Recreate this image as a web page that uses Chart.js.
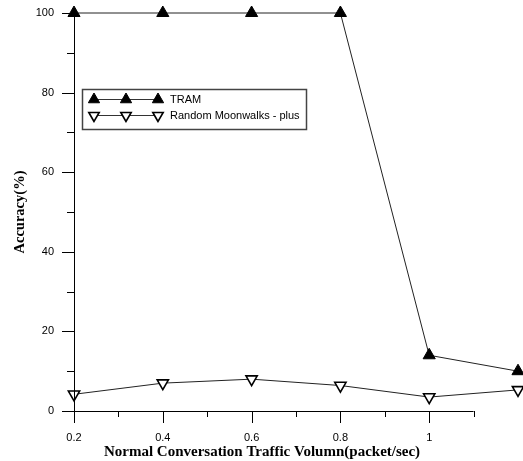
<!DOCTYPE html>
<html>
<head>
<meta charset="utf-8">
<script src="https://cdn.jsdelivr.net/npm/chart.js@4/dist/chart.umd.min.js"></script>
<style>
  html, body { margin: 0; padding: 0; background: #fff; }
  #wrap { width: 523px; height: 461px; }
</style>
</head>
<body>
<div id="wrap"><canvas id="c" width="523" height="461"></canvas></div>
<script>
// Traffic volume (packet/sec) at each measurement
const volumes = [0.2, 0.4, 0.6, 0.8, 1.0, 1.2];
// Detection accuracy (%)
const tramAccuracy = [100, 100, 100, 100, 14.0, 10.0];
const moonwalkAccuracy = [4.2, 7.0, 8.0, 6.4, 3.5, 5.3];

const seriesNames = ['TRAM', 'Random Moonwalks - plus'];
const xTickValues = [0.2, 0.4, 0.6, 0.8, 1.0];
const xTickLabels = ['0.2', '0.4', '0.6', '0.8', '1'];
const xMinorValues = [0.3, 0.5, 0.7, 0.9, 1.1];
const xAxisEnd = 1.1;
const yTickValues = [0, 20, 40, 60, 80, 100];
const yTickLabels = ['0', '20', '40', '60', '80', '100'];
const yMinorValues = [10, 30, 50, 70, 90];

const xTitle = 'Normal Conversation Traffic Volumn(packet/sec)';
const yTitle = 'Accuracy(%)';

const toPoints = (ys) => volumes.map((x, i) => ({ x, y: ys[i] }));

const TICK_FONT = { family: '"Liberation Sans", Arial, sans-serif', size: 11 };
const TITLE_FONT = { family: '"Liberation Serif", "Times New Roman", serif', size: 14.5, weight: 'bold' };

// Axis lines, tick marks (major + minor), x title and the boxed legend
const frame = {
  id: 'frame',
  afterDatasetsDraw(chart) {
    const { ctx, scales: { x, y } } = chart;
    const x0 = Math.round(x.getPixelForValue(0.2));
    const xEnd = x.getPixelForValue(xAxisEnd);
    const y0 = Math.round(y.getPixelForValue(0));
    const yTop = y.getPixelForValue(100);
    const major = 12, minor = 6;
    ctx.save();
    ctx.strokeStyle = '#000';
    ctx.lineWidth = 1;
    ctx.beginPath();
    ctx.moveTo(x0 - major, y0 + 0.5); ctx.lineTo(xEnd, y0 + 0.5);
    ctx.moveTo(x0 + 0.5, yTop); ctx.lineTo(x0 + 0.5, y0 + major);
    xTickValues.forEach(v => { const p = Math.round(x.getPixelForValue(v)) + 0.5; ctx.moveTo(p, y0); ctx.lineTo(p, y0 + major); });
    xMinorValues.forEach(v => { const p = Math.round(x.getPixelForValue(v)) + 0.5; ctx.moveTo(p, y0); ctx.lineTo(p, y0 + minor); });
    yTickValues.forEach(v => { const p = Math.round(y.getPixelForValue(v)) + 0.5; ctx.moveTo(x0 - major, p); ctx.lineTo(x0, p); });
    yMinorValues.forEach(v => { const p = Math.round(y.getPixelForValue(v)) + 0.5; ctx.moveTo(x0 - minor - 1, p); ctx.lineTo(x0, p); });
    ctx.stroke();

    // x axis title
    ctx.fillStyle = '#000';
    ctx.font = 'bold 15px "Liberation Serif", "Times New Roman", serif';
    ctx.textAlign = 'center';
    ctx.textBaseline = 'middle';
    ctx.fillText(xTitle, 262, 452);

    // legend
    const bx = 82, by = 89, bw = 224, bh = 40;
    ctx.strokeStyle = '#444';
    ctx.lineWidth = 1.5;
    ctx.strokeRect(bx + 0.5, by + 0.5, bw, bh);
    const rows = [99, 115];
    chart.data.datasets.forEach((ds, i) => {
      const ry = rows[i];
      ctx.strokeStyle = '#333';
      ctx.lineWidth = 1;
      ctx.beginPath();
      ctx.moveTo(94, ry + 0.5); ctx.lineTo(158, ry + 0.5);
      ctx.stroke();
      [94, 126, 158].forEach(mx => {
        ctx.fillStyle = ds.pointBackgroundColor;
        ctx.strokeStyle = ds.pointBorderColor;
        ctx.lineWidth = ds.pointBorderWidth;
        Chart.helpers.drawPoint(ctx, {
          pointStyle: ds.pointStyle, radius: ds.pointRadius - 0.5,
          rotation: ds.pointRotation, borderWidth: ds.pointBorderWidth
        }, mx, ry + 0.5);
      });
      ctx.fillStyle = '#000';
      ctx.font = '11px "Liberation Sans", Arial, sans-serif';
      ctx.textAlign = 'left';
      ctx.textBaseline = 'middle';
      ctx.fillText(ds.label, 170, ry + 1);
    });
    ctx.restore();
  }
};

const noLabelPadding = (s) => { s.paddingTop = 0; s.paddingBottom = 0; s.paddingLeft = 0; s.paddingRight = 0; };

new Chart(document.getElementById('c'), {
  type: 'line',
  data: {
    datasets: [
      {
        label: seriesNames[0],
        data: toPoints(tramAccuracy),
        borderColor: '#222', borderWidth: 1,
        pointStyle: 'triangle', pointRadius: 7, pointRotation: 0,
        pointBackgroundColor: '#000', pointBorderColor: '#000', pointBorderWidth: 1,
        clip: false, tension: 0
      },
      {
        label: seriesNames[1],
        data: toPoints(moonwalkAccuracy),
        borderColor: '#222', borderWidth: 1,
        pointStyle: 'triangle', pointRadius: 6.5, pointRotation: 180,
        pointBackgroundColor: '#fff', pointBorderColor: '#000', pointBorderWidth: 1.6,
        clip: false, tension: 0
      }
    ]
  },
  options: {
    responsive: false,
    animation: false,
    layout: { autoPadding: false, padding: { top: 13, right: 5, left: 0, bottom: 0 } },
    plugins: { legend: { display: false }, tooltip: { enabled: false } },
    scales: {
      x: {
        type: 'linear', min: 0.2, max: 1.2,
        afterFit: s => { s.height = 50; noLabelPadding(s); },
        afterBuildTicks: s => { s.ticks = xTickValues.map(v => ({ value: v })); },
        grid: { display: false, drawTicks: false },
        border: { display: false },
        ticks: {
          color: '#000', font: TICK_FONT, padding: 20, maxRotation: 0, autoSkip: false,
          callback: (v) => { const i = xTickValues.indexOf(v); return i >= 0 ? xTickLabels[i] : ''; }
        }
      },
      y: {
        type: 'linear', min: 0, max: 100,
        afterFit: s => { s.width = 74; noLabelPadding(s); },
        afterBuildTicks: s => { s.ticks = yTickValues.map(v => ({ value: v })); },
        grid: { display: false, drawTicks: false },
        border: { display: false },
        ticks: {
          color: '#000', font: TICK_FONT, padding: 20, autoSkip: false,
          callback: (v) => { const i = yTickValues.indexOf(v); return i >= 0 ? yTickLabels[i] : ''; }
        },
        title: { display: true, text: yTitle, color: '#000', font: TITLE_FONT, padding: { top: 12, bottom: 0 } }
      }
    }
  },
  plugins: [frame]
});
</script>
</body>
</html>
